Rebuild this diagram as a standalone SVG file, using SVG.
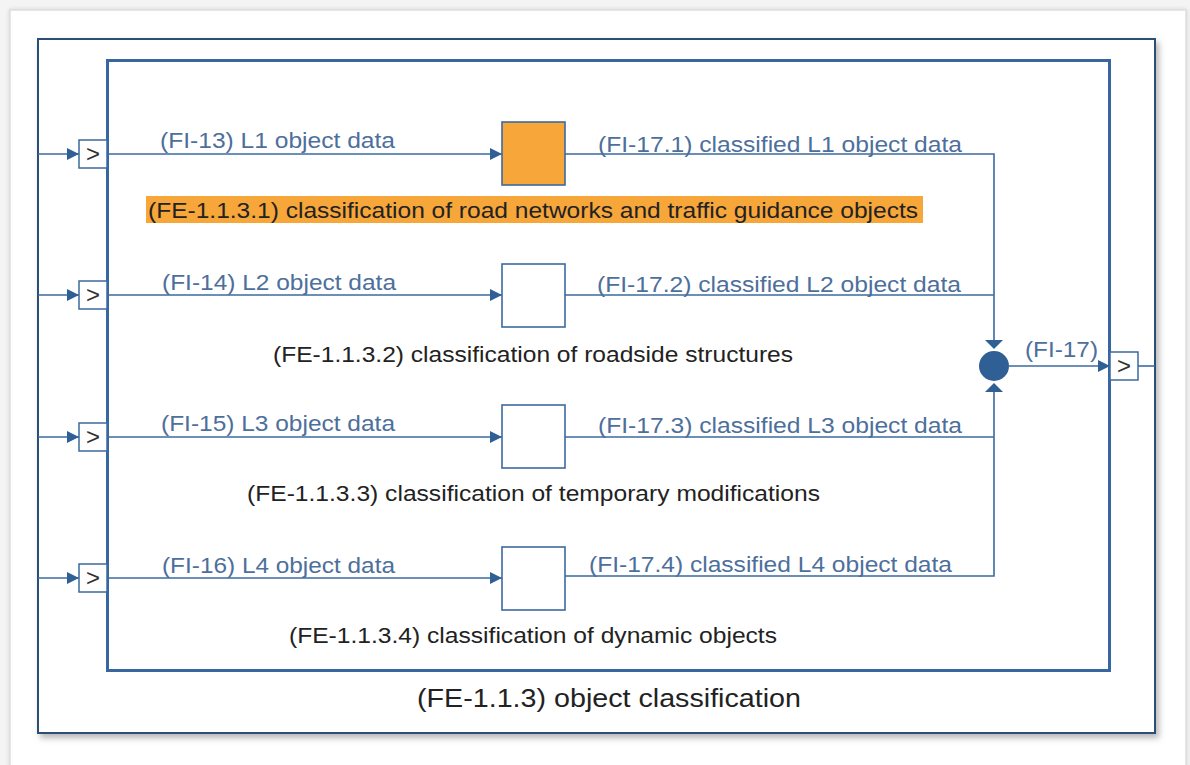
<svg xmlns="http://www.w3.org/2000/svg" width="1190" height="765" viewBox="0 0 1190 765">
  <style>
    .frame-outer { fill: #ffffff; stroke: #2c4f76; stroke-width: 2; }
    .frame-inner { fill: none; stroke: #3867a0; stroke-width: 3; }
    .port { fill: #ffffff; stroke: #3b6aa0; stroke-width: 1.5; }
    .fbox { fill: #ffffff; stroke: #3b6aa0; stroke-width: 1.6; }
    .fbox.active { fill: #f7a63a; }
    .wire { fill: none; stroke: #3b6aa0; stroke-width: 1.6; }
    .head { fill: #2f5f95; }
    .flow { font-family: "Liberation Sans", Arial, sans-serif; font-size: 22px; fill: #4d6f9c; }
    .fe { font-family: "Liberation Sans", Arial, sans-serif; font-size: 22px; fill: #222222; }
    .title { font-family: "Liberation Sans", Arial, sans-serif; font-size: 25px; fill: #222222; }
    .chev { font-family: "Liberation Sans", Arial, sans-serif; font-size: 24px; fill: #333333; text-anchor: middle; }
  </style>
  <defs>
    <filter id="shadow" x="-5%" y="-5%" width="112%" height="112%">
      <feDropShadow dx="3" dy="4" stdDeviation="3" flood-color="#7a7a7a" flood-opacity="0.55"/>
    </filter>
    <filter id="pageShadow" x="-5%" y="-5%" width="110%" height="110%">
      <feDropShadow dx="0" dy="0" stdDeviation="2" flood-color="#bdbdbd" flood-opacity="0.6"/>
    </filter>
    <marker id="arrow" viewBox="0 0 12 12" refX="12" refY="6" markerWidth="12" markerHeight="12" markerUnits="userSpaceOnUse" orient="auto">
      <path d="M0,0 L12,6 L0,12 Z" class="head"/>
    </marker>
  </defs>

  <!-- page -->
  <rect x="0" y="0" width="1190" height="765" fill="#f4f4f4"/>
  <rect x="10" y="10" width="1176" height="780" fill="#ffffff" stroke="#dedede" stroke-width="1.5" filter="url(#pageShadow)"/>

  <!-- enclosing function FE-1.1.3 -->
  <g id="fe-1-1-3">
    <rect class="frame-outer" x="38" y="39" width="1117" height="694" filter="url(#shadow)"/>
    <rect class="frame-inner" x="107.5" y="60.5" width="1002" height="610"/>
    <text class="title" x="417" y="707" textLength="384" lengthAdjust="spacingAndGlyphs">(FE-1.1.3) object classification</text>
  </g>

  <!-- connectors -->
  <g id="connectors">
    <!-- external inputs into ports -->
    <line class="wire" x1="38" y1="154" x2="79" y2="154" marker-end="url(#arrow)"/>
    <line class="wire" x1="38" y1="295" x2="79" y2="295" marker-end="url(#arrow)"/>
    <line class="wire" x1="38" y1="437" x2="79" y2="437" marker-end="url(#arrow)"/>
    <line class="wire" x1="38" y1="578" x2="79" y2="578" marker-end="url(#arrow)"/>

    <!-- ports to sub-functions -->
    <line class="wire" x1="107" y1="154" x2="502" y2="154" marker-end="url(#arrow)"/>
    <line class="wire" x1="107" y1="295" x2="502" y2="295" marker-end="url(#arrow)"/>
    <line class="wire" x1="107" y1="437" x2="502" y2="437" marker-end="url(#arrow)"/>
    <line class="wire" x1="107" y1="578" x2="502" y2="578" marker-end="url(#arrow)"/>

    <!-- sub-function outputs into the junction -->
    <polyline class="wire" points="565,154 994,154 994,345"/>
    <line class="wire" x1="565" y1="295" x2="994" y2="295"/>
    <line class="wire" x1="565" y1="437" x2="994" y2="437"/>
    <polyline class="wire" points="565,576 994,576 994,387"/>
    <polygon class="head" points="985,340 1003,340 994,349"/>
    <polygon class="head" points="985,392 1003,392 994,383"/>

    <!-- junction to output port -->
    <line class="wire" x1="1009" y1="366" x2="1110" y2="366" marker-end="url(#arrow)"/>
    <line class="wire" x1="1138" y1="366" x2="1155" y2="366"/>

    <!-- flow labels -->
    <text class="flow" x="160" y="148" textLength="235" lengthAdjust="spacingAndGlyphs">(FI-13) L1 object data</text>
    <text class="flow" x="162" y="290" textLength="234" lengthAdjust="spacingAndGlyphs">(FI-14) L2 object data</text>
    <text class="flow" x="161" y="431" textLength="234" lengthAdjust="spacingAndGlyphs">(FI-15) L3 object data</text>
    <text class="flow" x="162" y="573" textLength="233" lengthAdjust="spacingAndGlyphs">(FI-16) L4 object data</text>

    <text class="flow" x="598" y="152" textLength="364" lengthAdjust="spacingAndGlyphs">(FI-17.1) classified L1 object data</text>
    <text class="flow" x="597" y="292" textLength="364" lengthAdjust="spacingAndGlyphs">(FI-17.2) classified L2 object data</text>
    <text class="flow" x="598" y="433" textLength="364" lengthAdjust="spacingAndGlyphs">(FI-17.3) classified L3 object data</text>
    <text class="flow" x="589" y="572" textLength="363" lengthAdjust="spacingAndGlyphs">(FI-17.4) classified L4 object data</text>

    <text class="flow" x="1025" y="357" textLength="73" lengthAdjust="spacingAndGlyphs">(FI-17)</text>
  </g>

  <!-- input ports -->
  <g id="port-in-1">
    <rect class="port" x="79" y="140" width="28" height="28"/>
    <text class="chev" x="93" y="162">&gt;</text>
  </g>
  <g id="port-in-2">
    <rect class="port" x="79" y="281" width="28" height="28"/>
    <text class="chev" x="93" y="303">&gt;</text>
  </g>
  <g id="port-in-3">
    <rect class="port" x="79" y="423" width="28" height="28"/>
    <text class="chev" x="93" y="445">&gt;</text>
  </g>
  <g id="port-in-4">
    <rect class="port" x="79" y="564" width="28" height="28"/>
    <text class="chev" x="93" y="586">&gt;</text>
  </g>

  <!-- output port -->
  <g id="port-out">
    <rect class="port" x="1110" y="352" width="28" height="28"/>
    <text class="chev" x="1124" y="374">&gt;</text>
  </g>

  <!-- sub-functions -->
  <g id="fe-1-1-3-1">
    <rect class="fbox active" x="502" y="122" width="63" height="63"/>
    <rect x="146" y="196" width="777" height="27" fill="#f7a63a"/>
    <text class="fe" x="148" y="218" textLength="770" lengthAdjust="spacingAndGlyphs">(FE-1.1.3.1) classification of road networks and traffic guidance objects</text>
  </g>
  <g id="fe-1-1-3-2">
    <rect class="fbox" x="502" y="264" width="63" height="63"/>
    <text class="fe" x="273" y="362" textLength="520" lengthAdjust="spacingAndGlyphs">(FE-1.1.3.2) classification of roadside structures</text>
  </g>
  <g id="fe-1-1-3-3">
    <rect class="fbox" x="502" y="405" width="63" height="63"/>
    <text class="fe" x="247" y="501" textLength="573" lengthAdjust="spacingAndGlyphs">(FE-1.1.3.3) classification of temporary modifications</text>
  </g>
  <g id="fe-1-1-3-4">
    <rect class="fbox" x="502" y="547" width="63" height="63"/>
    <text class="fe" x="289" y="643" textLength="488" lengthAdjust="spacingAndGlyphs">(FE-1.1.3.4) classification of dynamic objects</text>
  </g>

  <!-- junction -->
  <g id="junction">
    <circle cx="994" cy="366" r="15" fill="#2f5f95"/>
  </g>
</svg>
